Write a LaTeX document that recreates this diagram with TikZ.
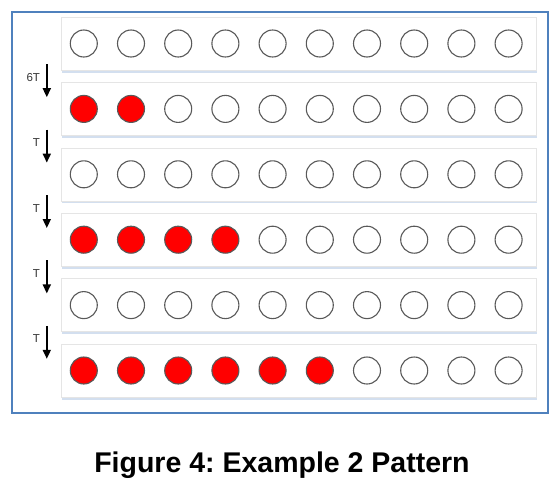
\documentclass[tikz,border=0pt]{standalone}
\usepackage{fontspec}
\setmainfont{Liberation Sans}
\usepackage{xcolor}
\usetikzlibrary{arrows.meta,positioning,shadows}
\definecolor{framecol}{RGB}{79,129,189}
\definecolor{shadecol}{RGB}{200,215,235}
\frenchspacing

\begin{document}
\begin{tikzpicture}[
  x=1pt, y=-1pt,
  node distance=12pt,
  frame/.style={draw=framecol, line width=1.8pt},
  lane/.style={draw=gray!20, fill=white, minimum width=475pt, minimum height=53pt, inner sep=0pt,
    drop shadow={fill=shadecol, shadow xshift=1pt, shadow yshift=-2.5pt, opacity=0.8}},
  dot/.style={circle, draw=black!65, line width=1.1pt, minimum size=27pt, inner sep=0pt, fill=white},
  lit/.style={dot, fill=red},
  arr/.style={-{Triangle[length=9pt, width=8pt]}, line width=1.7pt},
  lbl/.style={font=\fontsize{11.5}{13}\selectfont, text=black!80, inner sep=1pt},
]
\useasboundingbox (0,0) rectangle (559,485);
\draw[frame] (12,12) rectangle (548,413);

% rows
\node[lane] (r1) at (298.5,43.5) {};
\node[lane, below=of r1] (r2) {};
\node[lane, below=of r2] (r3) {};
\node[lane, below=of r3] (r4) {};
\node[lane, below=of r4] (r5) {};
\node[lane, below=of r5] (r6) {};

% circles, the first \n of each row are red
\foreach \r/\n in {1/0, 2/2, 3/0, 4/4, 5/0, 6/6}
  \foreach \i in {1,...,10} {
    \edef\sty{\ifnum\i>\n dot\else lit\fi}
    \node[\sty] (c\r-\i) at ([xshift={23pt+47.2pt*(\i-1)}]r\r.west) {};
  }

% time steps
\foreach \r/\s in {1/2, 2/3, 3/4, 4/5, 5/6} {
  \coordinate (s\r) at ([xshift=-14pt, yshift=6pt]r\r.south west);
  \coordinate (e\s) at ([xshift=-14pt, yshift=-15pt]r\s.north west);
}
\draw[arr] (s1) -- node[lbl, left=5pt, pos=0.4]{6T} (e2);
\draw[arr] (s2) -- node[lbl, left=5pt, pos=0.4]{T} (e3);
\draw[arr] (s3) -- node[lbl, left=5pt, pos=0.4]{T} (e4);
\draw[arr] (s4) -- node[lbl, left=5pt, pos=0.4]{T} (e5);
\draw[arr] (s5) -- node[lbl, left=5pt, pos=0.4]{T} (e6);

\node[font=\bfseries\fontsize{28.5}{32}\selectfont, anchor=base] (cap) at (282,472) {Figure 4: Example 2 Pattern};
\end{tikzpicture}
\end{document}
